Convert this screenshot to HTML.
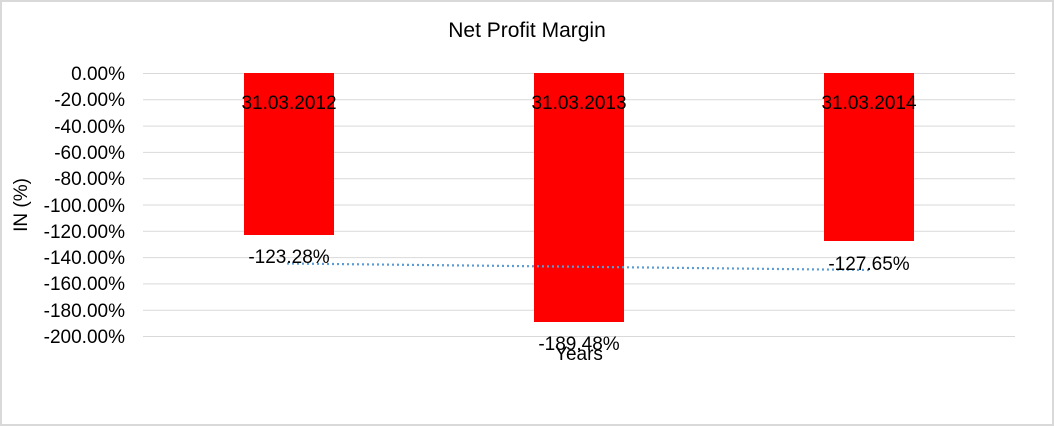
<!DOCTYPE html>
<html><head><style>
html,body{margin:0;padding:0;background:#fff}
svg{display:block}
text{font-family:"Liberation Sans",Arial,sans-serif;fill:#000}
</style></head><body>
<svg width="1054" height="426" viewBox="0 0 1054 426">
<rect x="1" y="1" width="1052" height="424" fill="#fff" stroke="#d9d9d9" stroke-width="2"/>
<text x="527" y="37" font-size="21" text-anchor="middle">Net Profit Margin</text>
<g stroke="#d9d9d9" stroke-width="1">
<line x1="143" x2="1015" y1="73.5" y2="73.5"/>
<line x1="143" x2="1015" y1="99.8" y2="99.8"/>
<line x1="143" x2="1015" y1="126.1" y2="126.1"/>
<line x1="143" x2="1015" y1="152.4" y2="152.4"/>
<line x1="143" x2="1015" y1="178.7" y2="178.7"/>
<line x1="143" x2="1015" y1="205" y2="205"/>
<line x1="143" x2="1015" y1="231.3" y2="231.3"/>
<line x1="143" x2="1015" y1="257.6" y2="257.6"/>
<line x1="143" x2="1015" y1="283.9" y2="283.9"/>
<line x1="143" x2="1015" y1="310.2" y2="310.2"/>
<line x1="143" x2="1015" y1="336.5" y2="336.5"/>
</g>
<g font-size="19" text-anchor="end">
<text x="125" y="80">0.00%</text>
<text x="125" y="106">-20.00%</text>
<text x="125" y="133">-40.00%</text>
<text x="125" y="159">-60.00%</text>
<text x="125" y="185">-80.00%</text>
<text x="125" y="212">-100.00%</text>
<text x="125" y="238">-120.00%</text>
<text x="125" y="264">-140.00%</text>
<text x="125" y="290">-160.00%</text>
<text x="125" y="317">-180.00%</text>
<text x="125" y="343">-200.00%</text>
</g>
<text transform="translate(27,205) rotate(-90)" font-size="19" text-anchor="middle">IN (%)</text>
<g fill="#ff0000">
<rect x="244" y="73" width="90" height="162"/>
<rect x="534" y="73" width="90" height="249"/>
<rect x="824" y="73" width="90" height="168"/>
</g>
<line x1="287" y1="263.5" x2="870" y2="270" stroke="#5b9bd5" stroke-width="2.2" stroke-dasharray="2,3"/>
<g font-size="19" text-anchor="middle">
<text x="289" y="109">31.03.2012</text>
<text x="579" y="109">31.03.2013</text>
<text x="869" y="109">31.03.2014</text>
<text x="289" y="263">-123.28%</text>
<text x="579" y="350">-189.48%</text>
<text x="869" y="270">-127.65%</text>
<text x="579" y="360">Years</text>
</g>
</svg>
</body></html>
